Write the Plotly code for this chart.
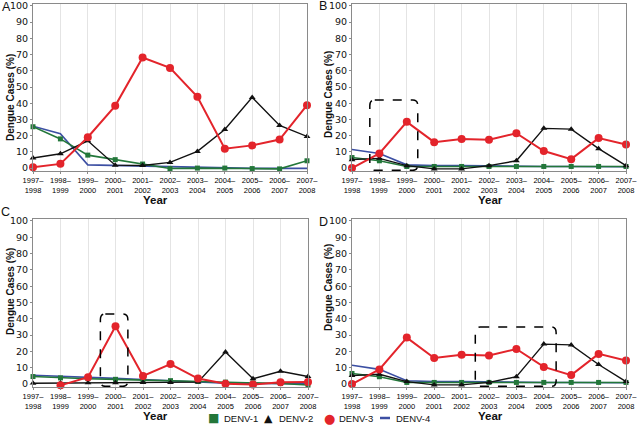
import plotly.graph_objects as go

# ---------------- data ----------------
year_labels = ["1997–<br>1998", "1998–<br>1999", "1999–<br>2000", "2000–<br>2001",
               "2001–<br>2002", "2002–<br>2003", "2003–<br>2004", "2004–<br>2005",
               "2005–<br>2006", "2006–<br>2007", "2007–<br>2008"]
series_names = ["DENV-1", "DENV-2", "DENV-3", "DENV-4"]

a_denv1 = [25.5, 18, 8, 5.2, 2.5, -0.3, 0, 0, -0.3, -0.5, 4.5]
a_denv2 = [6.2, 8.8, 16.8, 1.8, 1.6, 3.5, 10.3, 23.8, 43.6, 26.3, 19.5]
a_denv3 = [0.5, 2.6, 19, 38.4, 68.2, 61.8, 44, 12, 14, 17.6, 38.8]
a_denv4 = [25.8, 21.2, 2, 1.6, 1.2, 1, 0.6, 0, -0.2, -0.2, -0.2]

b_denv1 = [6.5, 4.5, 1, 1, 1, 1, 1, 1, 1, 1, 1]
b_denv2 = [5.2, 6, 1.5, -0.5, -0.5, 1.5, 4.5, 24.5, 24, 12, 1.5]
b_denv3 = [0, 9, 28.5, 16, 18, 17.5, 21.5, 10.5, 5.5, 18.5, 14.5]
b_denv4 = [11.5, 9, 2, 1.5, 1.5, 1.2, 1, 1, 1, 0.8, 0.8]

c_denv1 = [4.6, 3.8, 3.3, 2.9, 2.5, 2.1, 1.6, 1.2, 0.7, 0.3, -0.6]
c_denv2 = [0.5, 0.6, 0.8, 0.8, 0.9, 1.0, 1.2, 19.6, 3.3, 7.8, 4.6]
c_denv3 = [None, -0.8, 4.2, 35.5, 5, 12.3, 3.4, 0.2, -0.3, 1.1, 1.3]
c_denv4 = [5.4, 4.9, 4.2, 3.5, 2.8, 2.0, 1.3, 0.5, 0.3, 0.2, 0.2]

d_denv1 = [6.5, 4.5, 1, 1, 1, 1, 1, 1, 1, 1, 1]
d_denv2 = [5.2, 6, 1.5, -0.5, -0.5, 1.0, 4.5, 24.5, 24, 12, 1.5]
d_denv3 = [0, 9, 28.5, 16, 18, 17.5, 21.5, 10.5, 5.5, 18.5, 14.5]
d_denv4 = [11.5, 9, 2, 1.5, 1.5, 1.2, 1, 1, 1, 0.8, 0.8]

panel_letters = ["A", "B", "C", "D"]
# highlighted periods (x index start, x index end, top %)
box_b = [0.65, 2.4, 42]
box_c = [2.45, 3.45, 43]
box_d = [4.5, 7.45, 35]

# ---------------- figure ----------------
x_idx = list(range(len(year_labels)))
panels = [
    (a_denv1, a_denv2, a_denv3, a_denv4, None),
    (b_denv1, b_denv2, b_denv3, b_denv4, box_b),
    (c_denv1, c_denv2, c_denv3, c_denv4, box_c),
    (d_denv1, d_denv2, d_denv3, d_denv4, box_d),
]

W, H = 640, 433
def px(x):
    return x / W
def py(y):
    return 1 - y / H

# plot areas in pixels: (left, right, top, bottom)
areas = [(33, 307, 4, 171), (352, 626, 4, 171), (33, 308, 219, 387), (352, 626, 219, 387)]

GREEN = "#23773a"
BLACK = "#111111"
RED = "#e3242b"
BLUE = "#3c4fa3"

fig = go.Figure()
shapes = []
annotations = []

def rounded_path(x0, x1, y0, y1, rx, ry):
    return (f"M {x0+rx},{y1} L {x1-rx},{y1} Q {x1},{y1} {x1},{y1-ry} "
            f"L {x1},{y0+ry} Q {x1},{y0} {x1-rx},{y0} L {x0+rx},{y0} "
            f"Q {x0},{y0} {x0},{y0+ry} L {x0},{y1-ry} Q {x0},{y1} {x0+rx},{y1} Z")

for i, (d1, d2, d3, d4, box) in enumerate(panels):
    n = i + 1
    xa = "x" if n == 1 else f"x{n}"
    ya = "y" if n == 1 else f"y{n}"
    fig.add_trace(go.Scatter(x=x_idx, y=d4, mode="lines", line=dict(color=BLUE, width=1.6),
                             xaxis=xa, yaxis=ya, showlegend=False, cliponaxis=False))
    fig.add_trace(go.Scatter(x=x_idx, y=d1, mode="lines+markers", line=dict(color=GREEN, width=1.6),
                             marker=dict(symbol="square", size=5, color=GREEN),
                             xaxis=xa, yaxis=ya, showlegend=False, cliponaxis=False))
    fig.add_trace(go.Scatter(x=x_idx, y=d2, mode="lines+markers", line=dict(color=BLACK, width=1.4),
                             marker=dict(symbol="triangle-up", size=6, color=BLACK),
                             xaxis=xa, yaxis=ya, showlegend=False, cliponaxis=False))
    fig.add_trace(go.Scatter(x=x_idx, y=d3, mode="lines+markers", line=dict(color=RED, width=2),
                             marker=dict(symbol="circle", size=8, color=RED),
                             xaxis=xa, yaxis=ya, showlegend=False, cliponaxis=False))

    l, r, t, b = areas[i]
    axis_common = dict(showline=True, linecolor="#8a8a8a", linewidth=1, mirror=True, automargin=False)
    fig.layout[f"xaxis{'' if n == 1 else n}"] = dict(
        domain=[px(l), px(r)], anchor=ya, range=[0, 10],
        tickvals=x_idx, ticktext=year_labels, tickangle=0,
        tickfont=dict(family="Liberation Sans", size=7.5, color="#000"),
        showgrid=True, gridcolor="#e4e4e4", gridwidth=1,
        ticks="outside", ticklen=2, tickcolor="#8a8a8a", zeroline=False, **axis_common)
    fig.layout[f"yaxis{'' if n == 1 else n}"] = dict(
        domain=[py(b), py(t)], anchor=xa, range=[-1.8, 101.2],
        tickvals=list(range(0, 101, 10)),
        tickfont=dict(family="DejaVu Sans", size=9.5, color="#111"),
        showgrid=False, zeroline=False, ticks="outside", ticklen=2, tickcolor="#8a8a8a",
        **axis_common)

    if box is not None:
        shapes.append(dict(type="path", xref=xa, yref=ya,
                           path=rounded_path(box[0], box[1], -1.4, box[2], 0.18, 3.5),
                           line=dict(color="black", width=1.5, dash="dash")))

# titles / letters (pixel positions)
ytitle_pos = [(10, 98), (328, 95), (10, 292), (328, 288)]
xtitle_pos = [(155, 200), (490, 200), (155, 416), (490, 416)]
letter_pos = [(6, 7), (323, 6), (5, 212), (323, 222)]
for i in range(4):
    annotations.append(dict(text="<b>Dengue Cases (%)</b>", textangle=-90, showarrow=False,
                            xref="paper", yref="paper", x=px(ytitle_pos[i][0]), y=py(ytitle_pos[i][1]),
                            xanchor="center", yanchor="middle",
                            font=dict(family="Liberation Sans", size=10, color="#111")))
    annotations.append(dict(text="<b>Year</b>", showarrow=False,
                            xref="paper", yref="paper", x=px(xtitle_pos[i][0]), y=py(xtitle_pos[i][1]),
                            xanchor="center", yanchor="middle",
                            font=dict(family="Liberation Sans", size=11.5, color="#111")))
    annotations.append(dict(text=panel_letters[i], showarrow=False,
                            xref="paper", yref="paper", x=px(letter_pos[i][0]), y=py(letter_pos[i][1]),
                            xanchor="center", yanchor="middle",
                            font=dict(family="Liberation Sans", size=12.5, color="#111")))

# legend (compact, drawn as text glyphs + a line)
leg_y = 418
leg_glyphs = [("■", GREEN, 213, 12), ("▲", BLACK, 268, 11), ("●", RED, 329, 13), (None, BLUE, 385, 0)]
leg_text_x = [222, 277, 337, 394]
for name, (glyph, col, gx, gsize), tx in zip(series_names, leg_glyphs, leg_text_x):
    if glyph is None:
        shapes.append(dict(type="line", xref="paper", yref="paper",
                           x0=px(gx - 5), x1=px(gx + 5), y0=py(leg_y), y1=py(leg_y),
                           line=dict(color=col, width=2.5)))
    else:
        annotations.append(dict(text=glyph, showarrow=False, xref="paper", yref="paper",
                                x=px(gx), y=py(leg_y), xanchor="center", yanchor="middle",
                                font=dict(family="DejaVu Sans", size=gsize, color=col)))
    annotations.append(dict(text=name, showarrow=False, xref="paper", yref="paper",
                            x=px(tx), y=py(leg_y), xanchor="left", yanchor="middle",
                            font=dict(family="Liberation Sans", size=9.5, color="#111")))

fig.update_layout(
    width=W, height=H, margin=dict(l=0, r=0, t=0, b=0, autoexpand=False),
    paper_bgcolor="white", plot_bgcolor="white",
    shapes=shapes, annotations=annotations, showlegend=False,
)

fig.write_html("out.html", config={"displayModeBar": False},
               post_script="document.body.style.margin='0';document.body.style.padding='0';"
                           "document.body.style.overflow='hidden';")
